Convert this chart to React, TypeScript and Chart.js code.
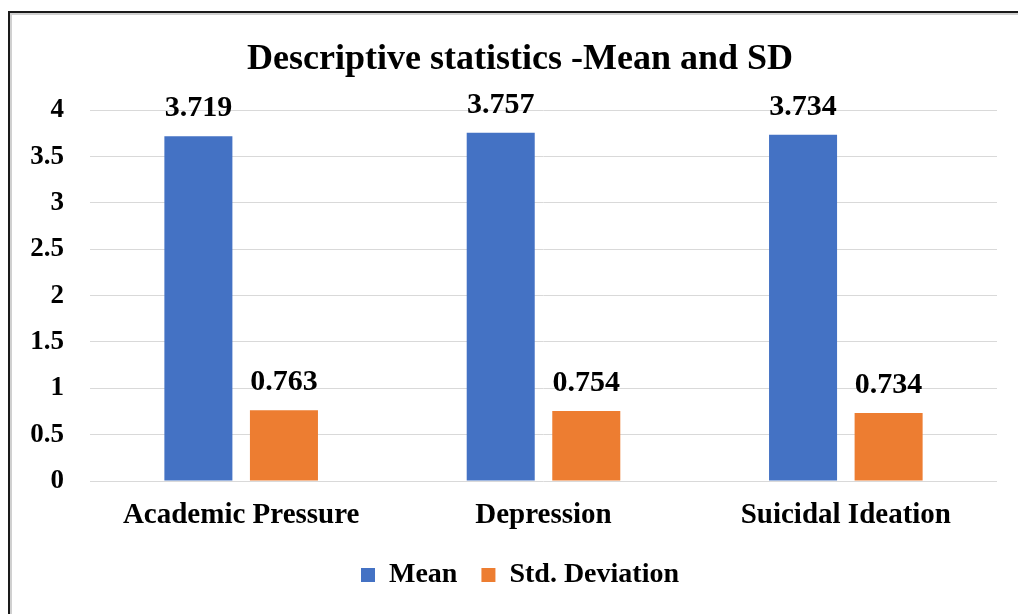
import React, { useEffect, useRef } from 'react';
import { Chart, registerables } from 'chart.js';

Chart.register(...registerables);

const categories = ['Academic Pressure', 'Depression', 'Suicidal Ideation'];
const seriesNames = ['Mean', 'Std. Deviation'];
const meanValues = [3.719, 3.757, 3.734];
const sdValues = [0.763, 0.754, 0.734];
const yTicks = [0, 0.5, 1, 1.5, 2, 2.5, 3, 3.5, 4];
const titleText = 'Descriptive statistics -Mean and SD';

const FONT = '"Liberation Serif", "Times New Roman", Times, serif';
const BLUE = '#4472C4';
const ORANGE = '#ED7D31';

const valueLabels = {
  id: 'valueLabels',
  afterDatasetsDraw(chart: any) {
    const ctx = chart.ctx;
    ctx.save();
    ctx.font = `bold 30px ${FONT}`;
    ctx.fillStyle = '#000';
    ctx.textAlign = 'center';
    ctx.textBaseline = 'alphabetic';
    chart.data.datasets.forEach((ds: any, i: number) => {
      const meta = chart.getDatasetMeta(i);
      meta.data.forEach((bar: any, j: number) => {
        ctx.fillText(Number(ds.data[j]).toFixed(3), bar.x, bar.y - 20);
      });
    });
    ctx.restore();
  },
};

export default function App() {
  const canvasRef = useRef<HTMLCanvasElement | null>(null);

  useEffect(() => {
    if (!canvasRef.current) return;
    const chart = new Chart(canvasRef.current, {
      type: 'bar',
      data: {
        labels: categories,
        datasets: [
          {
            label: seriesNames[0],
            data: meanValues,
            backgroundColor: BLUE,
            categoryPercentage: 0.566,
            barPercentage: 0.795,
          },
          {
            label: seriesNames[1],
            data: sdValues,
            backgroundColor: ORANGE,
            categoryPercentage: 0.566,
            barPercentage: 0.795,
          },
        ],
      },
      options: {
        animation: false,
        responsive: true,
        maintainAspectRatio: false,
        layout: { padding: { left: 0, right: 0, top: 0, bottom: 15 } },
        plugins: {
          title: {
            display: true,
            text: titleText,
            color: '#000',
            font: { family: FONT, size: 36, weight: 'bold', lineHeight: 1.2 },
            padding: { top: 38, bottom: 29 },
          },
          legend: {
            display: true,
            position: 'bottom',
            labels: {
              color: '#000',
              font: { family: FONT, size: 28, weight: 'bold' },
              boxWidth: 14,
              boxHeight: 14,
              padding: 24,
            },
          },
          tooltip: { enabled: false },
        },
        scales: {
          x: {
            grid: { display: false, drawTicks: false },
            border: { display: false },
            ticks: {
              color: '#000',
              font: { family: FONT, size: 29, weight: 'bold' },
              padding: 17,
              maxRotation: 0,
            },
            afterFit: (s: any) => {
              s.height = 56;
            },
          },
          y: {
            min: 0,
            max: 4,
            grid: { color: '#d9d9d9', lineWidth: 1, drawTicks: false },
            border: { display: false },
            ticks: {
              color: '#000',
              font: { family: FONT, size: 27, weight: 'bold' },
              padding: 26,
              callback: (v: any) => String(v),
            },
            afterBuildTicks: (s: any) => {
              s.ticks = yTicks.map((v) => ({ value: v }));
            },
            afterFit: (s: any) => {
              s.width = 90;
            },
          },
          yRight: {
            position: 'right',
            display: true,
            min: 0,
            max: 4,
            grid: { display: false, drawTicks: false },
            border: { display: false },
            ticks: { display: false },
            afterFit: (s: any) => {
              s.width = 43;
            },
          },
        },
      } as any,
      plugins: [valueLabels],
    });
    return () => chart.destroy();
  }, []);

  return (
    <div
      style={{
        position: 'fixed',
        left: 0,
        top: 0,
        width: 1018,
        height: 614,
        overflow: 'hidden',
        background: '#fff',
      }}
    >
      <div
        style={{
          position: 'absolute',
          left: 8,
          top: 11,
          width: 1200,
          height: 800,
          borderTop: '2px solid #1a1a1a',
          borderLeft: '2px solid #1a1a1a',
          boxShadow: 'inset 2px 2px 0 #d0d0d0',
        }}
      />
      <div style={{ position: 'absolute', left: 0, top: 0, width: 1040, height: 614 }}>
        <canvas ref={canvasRef} />
      </div>
    </div>
  );
}
